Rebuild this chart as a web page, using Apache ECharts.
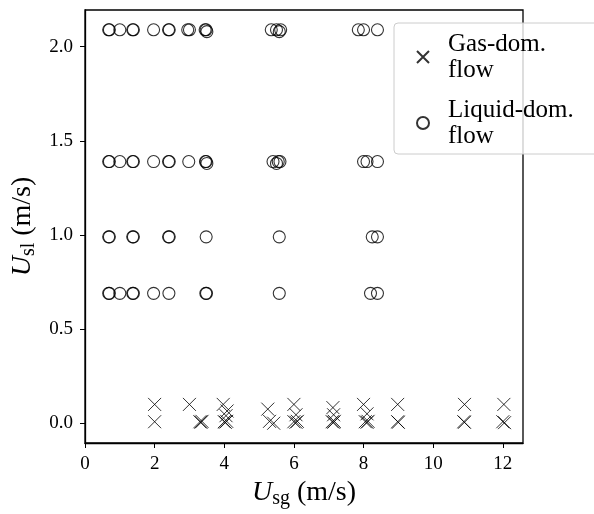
<!DOCTYPE html>
<html>
<head>
<meta charset="utf-8">
<script src="https://cdn.jsdelivr.net/npm/echarts@6/dist/echarts.min.js"></script>
<style>
  html, body { margin: 0; padding: 0; background: #fff; }
  #main { width: 594px; height: 514px; }
</style>
</head>
<body>
<div id="main"></div>
<script>
// gas-dominated flow points (crosses)
const gasUsg = [2.0, 3.0, 3.97, 5.25, 6.0, 7.12, 8.0, 8.98, 10.9, 12.03,
  4.08, 4.05, 6.06, 7.14, 8.1,
  2.0, 3.3, 3.33, 3.36, 4.0, 4.03, 4.07, 5.3, 5.42, 6.0, 6.06, 6.1,
  7.1, 7.14, 7.16, 8.05, 8.1, 8.13, 8.98, 9.0, 10.88, 10.9, 12.0, 12.05];
const gasUsl = [0.1, 0.1, 0.1, 0.075, 0.1, 0.083, 0.1, 0.1, 0.1, 0.1,
  0.065, 0.04, 0.045, 0.045, 0.05,
  0.008, 0.008, 0.005, 0.01, 0.008, 0.005, 0.01, 0.01, 0.0, 0.008, 0.005, 0.01,
  0.008, 0.005, 0.01, 0.008, 0.005, 0.01, 0.008, 0.005, 0.008, 0.005, 0.008, 0.003];

// liquid-dominated flow points (circles)
const liqUsg = [
  0.68, 0.7, 1.0, 1.37, 1.39, 1.97, 2.4, 2.42, 2.95, 3.0, 3.45, 3.48, 3.5, 5.35, 5.5, 5.58, 5.62, 7.85, 8.0, 8.4,
  0.68, 0.7, 1.0, 1.37, 1.39, 1.97, 2.4, 2.42, 2.98, 3.46, 3.48, 3.5, 5.4, 5.5, 5.55, 5.6, 8.0, 8.1, 8.4,
  0.68, 0.7, 1.37, 1.39, 2.4, 2.42, 3.48, 5.58, 8.25, 8.4,
  0.68, 0.7, 1.0, 1.37, 1.39, 1.97, 2.41, 3.47, 3.49, 5.58, 8.2, 8.4];
const liqUsl = [
  2.09, 2.09, 2.09, 2.09, 2.09, 2.09, 2.09, 2.09, 2.09, 2.09, 2.09, 2.09, 2.08, 2.09, 2.09, 2.08, 2.09, 2.09, 2.09, 2.09,
  1.39, 1.39, 1.39, 1.39, 1.39, 1.39, 1.39, 1.39, 1.39, 1.39, 1.39, 1.38, 1.39, 1.38, 1.39, 1.39, 1.39, 1.39, 1.39,
  0.99, 0.99, 0.99, 0.99, 0.99, 0.99, 0.99, 0.99, 0.99, 0.99,
  0.69, 0.69, 0.69, 0.69, 0.69, 0.69, 0.69, 0.69, 0.69, 0.69, 0.69, 0.69];

const xTicks = [0, 2, 4, 6, 8, 10, 12];
const yTicks = [0.0, 0.5, 1.0, 1.5, 2.0];

const FONT = '"Liberation Serif", "DejaVu Serif", serif';
const crossPath = 'path://M0,0L10,10M10,0L0,10';

const zip = (a, b) => a.map((v, i) => [v, b[i]]);

const chart = echarts.init(document.getElementById('main'));

const axisCommon = {
  axisLine: { show: true, onZero: false, lineStyle: { color: '#000', width: 1.3 } },
  axisTick: { show: true, inside: false, length: 5, lineStyle: { color: '#000', width: 1 } },
  splitLine: { show: false },
  axisLabel: { color: '#000', fontFamily: FONT, fontSize: 19 }
};

const nameRich = {
  i: { fontFamily: FONT, fontSize: 28, fontStyle: 'italic', color: '#000' },
  s: { fontFamily: FONT, fontSize: 20, color: '#000', padding: [12, 0, 0, 0] }
};

chart.setOption({
  animation: false,
  backgroundColor: '#fff',
  grid: { left: 85, top: 10, right: 71, bottom: 69, show: true, borderColor: '#000', borderWidth: 1.3, backgroundColor: 'transparent' },
  xAxis: Object.assign({}, axisCommon, {
    type: 'value',
    min: 0,
    max: 12.58,
    interval: 2,
    axisLabel: Object.assign({}, axisCommon.axisLabel, {
      margin: 12,
      showMaxLabel: false,
      formatter: v => xTicks.includes(v) ? String(v) : ''
    }),
    name: '{i|U}{s|sg} (m/s)',
    nameLocation: 'middle',
    nameGap: 34,
    nameTextStyle: { color: '#000', fontFamily: FONT, fontSize: 28, rich: nameRich }
  }),
  yAxis: Object.assign({}, axisCommon, {
    type: 'value',
    min: -0.105,
    max: 2.195,
    axisLabel: Object.assign({}, axisCommon.axisLabel, {
      margin: 12,
      customValues: yTicks,
      formatter: v => v.toFixed(1)
    }),
    axisTick: Object.assign({}, axisCommon.axisTick, { customValues: yTicks }),
    name: '{i|U}{s|sl} (m/s)',
    nameLocation: 'middle',
    nameRotate: 90,
    nameGap: 41,
    nameTextStyle: { color: '#000', fontFamily: FONT, fontSize: 28, rich: nameRich }
  }),
  legend: {
    orient: 'vertical',
    left: 394,
    top: 23,
    padding: [8, 40, 5, 22],
    itemGap: 14,
    itemWidth: 12,
    itemHeight: 12,
    backgroundColor: 'rgba(255,255,255,0.8)',
    borderColor: '#cccccc',
    borderWidth: 1,
    borderRadius: 4,
    textStyle: { color: '#000', fontFamily: FONT, fontSize: 25, lineHeight: 26, padding: [0, 0, 0, 14] },
    data: [
      { name: 'Gas-dom.\nflow', icon: crossPath },
      { name: 'Liquid-dom.\nflow', icon: 'circle' }
    ]
  },
  series: [
    {
      name: 'Gas-dom.\nflow',
      type: 'scatter',
      symbol: crossPath,
      symbolSize: 13,
      itemStyle: { color: 'transparent', borderColor: '#000', borderWidth: 1 },
      data: zip(gasUsg, gasUsl)
    },
    {
      name: 'Liquid-dom.\nflow',
      type: 'scatter',
      symbol: 'circle',
      symbolSize: 12,
      itemStyle: { color: 'transparent', borderColor: '#000', borderWidth: 1.1 },
      data: zip(liqUsg, liqUsl)
    }
  ]
});
</script>
</body>
</html>
